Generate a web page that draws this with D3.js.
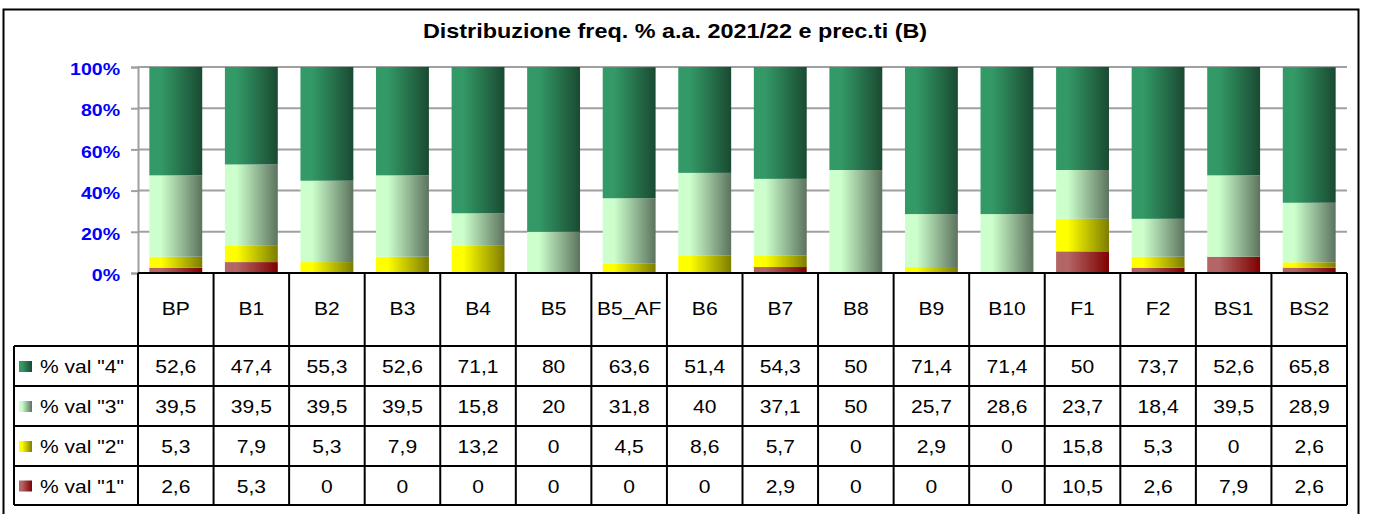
<!DOCTYPE html>
<html>
<head>
<meta charset="utf-8">
<script src="https://cdn.jsdelivr.net/npm/d3@7"></script>
<style>
  body { margin: 0; background: #fff; }
  svg { display: block; font-family: "Liberation Sans", Arial, sans-serif; }
</style>
</head>
<body>
<div id="chart"></div>
<script>
// data
const categories = ["BP", "B1", "B2", "B3", "B4", "B5", "B5_AF", "B6", "B7", "B8", "B9", "B10", "F1", "F2", "BS1", "BS2"];
const val4 = [52.6, 47.4, 55.3, 52.6, 71.1, 80, 63.6, 51.4, 54.3, 50, 71.4, 71.4, 50, 73.7, 52.6, 65.8];
const val3 = [39.5, 39.5, 39.5, 39.5, 15.8, 20, 31.8, 40, 37.1, 50, 25.7, 28.6, 23.7, 18.4, 39.5, 28.9];
const val2 = [5.3, 7.9, 5.3, 7.9, 13.2, 0, 4.5, 8.6, 5.7, 0, 2.9, 0, 15.8, 5.3, 0, 2.6];
const val1 = [2.6, 5.3, 0, 0, 0, 0, 0, 0, 2.9, 0, 0, 0, 10.5, 2.6, 7.9, 2.6];
const seriesNames = ['% val "4"', '% val "3"', '% val "2"', '% val "1"'];
const yTicks = [0, 20, 40, 60, 80, 100];

const W = 1373, H = 514;
const plot = { left: 138, right: 1347, top: 67, bottom: 273 };
const tableLeft = 14;
const rowLines = [273, 346, 386, 426, 466, 505];
const SX = 1.17; // the original text is a bit stretched sideways

// gradient colours: [left, right]
const grads = {
  v4: ["#339966", "#1a4a32"],
  v3: ["#ccffcc", "#5c735e"],
  v2: ["#ffff00", "#7d7d00"],
  v1: ["#b46666", "#800000"]
};

const rows = categories.map((c, i) => ({ cat: c, v1: val1[i], v2: val2[i], v3: val3[i], v4: val4[i] }));
const keys = ["v1", "v2", "v3", "v4"];
const stacked = d3.stack().keys(keys)(rows);

const svg = d3.select("#chart").append("svg")
  .attr("width", W)
  .attr("height", H);

function label(g, x, y, str, size, anchor, bold) {
  return g.append("text")
    .attr("transform", `translate(${x},${y}) scale(${SX},1)`)
    .attr("text-anchor", anchor)
    .attr("font-size", size + "px")
    .attr("font-weight", bold ? "bold" : "normal")
    .attr("fill", "#000")
    .text(str);
}

const defs = svg.append("defs");
Object.entries(grads).forEach(([k, c]) => {
  const g = defs.append("linearGradient").attr("id", "g_" + k)
    .attr("x1", "0%").attr("x2", "100%").attr("y1", "0%").attr("y2", "0%");
  g.append("stop").attr("offset", "0%").attr("stop-color", c[0]);
  g.append("stop").attr("offset", "22%").attr("stop-color", c[0]);
  g.append("stop").attr("offset", "100%").attr("stop-color", c[1]);
});

// outer frame
svg.append("rect")
  .attr("x", 3.5).attr("y", 9.5)
  .attr("width", 1355).attr("height", 520)
  .attr("fill", "none").attr("stroke", "#000").attr("stroke-width", 2);

label(svg, 675, 38, "Distribuzione freq. % a.a. 2021/22 e prec.ti (B)", 20, "middle", true);

const x = d3.scaleBand().domain(categories).range([plot.left, plot.right]).paddingInner(0.3).paddingOuter(0.15);
const xCol = d3.scaleBand().domain(categories).range([plot.left, plot.right]);
const y = d3.scaleLinear().domain([0, 100]).range([plot.bottom, plot.top]);

// gridlines + y axis
const yAxis = svg.append("g")
  .attr("transform", `translate(${plot.left},0)`)
  .call(d3.axisLeft(y).tickValues(yTicks).tickSize(7).tickFormat(d => d + "%"));
yAxis.select(".domain").attr("stroke", "#a0a0a0").attr("stroke-width", 2);
yAxis.selectAll(".tick line").attr("stroke", "#a0a0a0").attr("stroke-width", 2);
yAxis.selectAll(".tick text")
  .attr("x", -18 / 1.15)
  .attr("dy", "0.45em")
  .attr("transform", "scale(1.15,1)")
  .attr("fill", "#0000ff")
  .attr("font-size", "17px").attr("font-weight", "bold")
  .attr("font-family", "'Liberation Sans', Arial, sans-serif");

svg.append("g").selectAll("line")
  .data(yTicks.filter(d => d > 0))
  .join("line")
  .attr("x1", plot.left).attr("x2", plot.right)
  .attr("y1", d => y(d)).attr("y2", d => y(d))
  .attr("stroke", "#a0a0a0").attr("stroke-width", 2);

// bars
svg.append("g").selectAll("g")
  .data(stacked)
  .join("g")
  .attr("fill", d => `url(#g_${d.key})`)
  .selectAll("rect")
  .data(d => d)
  .join("rect")
  .attr("x", d => x(d.data.cat))
  .attr("width", x.bandwidth())
  .attr("y", d => y(Math.min(100, d[1])))
  .attr("height", d => Math.max(0, y(d[0]) - y(Math.min(100, d[1]))));

// data table
const table = svg.append("g").attr("stroke", "#000").attr("stroke-width", 2);
rowLines.forEach((ry, i) => {
  table.append("line")
    .attr("x1", i === 0 ? plot.left : tableLeft).attr("x2", plot.right)
    .attr("y1", ry).attr("y2", ry);
});
table.append("line").attr("x1", tableLeft).attr("x2", tableLeft).attr("y1", rowLines[1]).attr("y2", rowLines[5]);
categories.concat(["end"]).forEach((c, i) => {
  const cx = plot.left + i * xCol.step();
  table.append("line").attr("x1", cx).attr("x2", cx).attr("y1", rowLines[0]).attr("y2", rowLines[5]);
});

const txt = svg.append("g");
categories.forEach(c => {
  label(txt, xCol(c) + xCol.bandwidth() / 2, 315, c, 18, "middle", false);
});

const seriesData = [val4, val3, val2, val1];
const seriesKeys = ["v4", "v3", "v2", "v1"];
seriesData.forEach((vals, r) => {
  const cy = (rowLines[r + 1] + rowLines[r + 2]) / 2;
  vals.forEach((v, i) => {
    label(txt, xCol(categories[i]) + xCol.bandwidth() / 2, cy + 7, String(v).replace(".", ","), 18, "middle", false);
  });
  svg.append("rect")
    .attr("x", 19).attr("y", cy - 5)
    .attr("width", 13).attr("height", 11)
    .attr("fill", `url(#g_${seriesKeys[r]})`);
  label(txt, 40, cy + 7, seriesNames[r], 18, "start", false);
});
</script>
</body>
</html>
